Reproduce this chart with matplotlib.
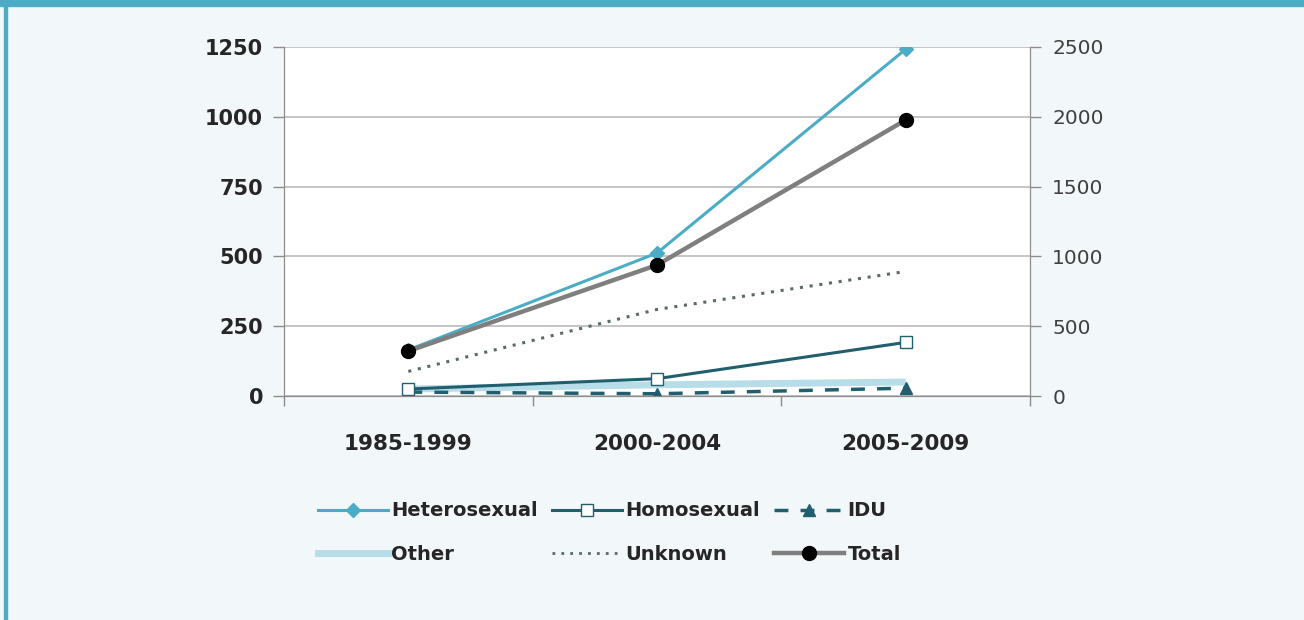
import matplotlib
matplotlib.use("Agg")
import matplotlib.pyplot as plt
from matplotlib.lines import Line2D
from matplotlib.patches import Rectangle
import numpy as np

periods = ["1985-1999", "2000-2004", "2005-2009"]
heterosexual = [165, 512, 1242]
homosexual = [25, 62, 192]
idu = [14, 8, 28]
other = [25, 40, 50]
unknown = [88, 310, 446]
total = [322, 938, 1977]  # secondary axis

BG = "#f2f7fa"
TEAL = "#4bacc6"
DARK_TEAL = "#215f6e"
LIGHT_BLUE = "#b7dde8"
GRID = "#bfbfbf"
TXT = "#262626"

plt.rcParams["font.family"] = ["DejaVu Sans"]

fig = plt.figure(figsize=(13.04, 6.2), dpi=100, facecolor=BG)

# frame: teal band along the top, thin teal rule on the left
fig.patches.append(Rectangle((0, 1 - 6 / 620), 1, 6 / 620, transform=fig.transFigure,
                             color=TEAL, zorder=0))
fig.patches.append(Rectangle((4 / 1304, 0), 3 / 1304, 1, transform=fig.transFigure,
                             color=TEAL, zorder=0))

ax = fig.add_axes([284 / 1304, 1 - 396 / 620, 746 / 1304, 349 / 620])
ax.set_facecolor("white")
ax2 = ax.twinx()

x = np.arange(len(periods))

ax.plot(x, other, color=LIGHT_BLUE, lw=5, solid_capstyle="butt", zorder=2)
ax.plot(x, unknown, color="#5a6b63", lw=2.2, ls=(0, (1, 2.2)), zorder=3)
ax.plot(x, idu, color=DARK_TEAL, lw=2.5, ls=(0, (4, 3.5)), marker="^", ms=8,
        mfc=DARK_TEAL, mec=DARK_TEAL, zorder=4)
ax.plot(x, homosexual, color=DARK_TEAL, lw=2.2, marker="s", ms=9,
        mfc="white", mec=DARK_TEAL, mew=1, zorder=4)
ax.plot(x, heterosexual, color=TEAL, lw=2.2, marker="D", ms=7,
        mfc=TEAL, mec=TEAL, zorder=5)
ax2.plot(x, total, color="#7f7f7f", lw=3.2, marker="o", ms=10,
         mfc="black", mec="black", zorder=5)

ax.set_xlim(-0.5, 2.5)
ax.set_ylim(0, 1250)
ax2.set_ylim(0, 2500)
ax.set_yticks(np.arange(0, 1251, 250))
ax2.set_yticks(np.arange(0, 2501, 500))
ax.yaxis.grid(True, color=GRID, lw=1.3)
ax.set_axisbelow(True)

ax.set_xticks(x)
ax.set_xticklabels(periods, fontsize=15.5, fontweight="bold", color=TXT)
ax.set_xticks([-0.5, 0.5, 1.5, 2.5], minor=True)
ax.tick_params(axis="x", which="major", length=0, pad=27)
ax.tick_params(axis="x", which="minor", length=7, color="#8c8c8c", width=1)
ax.tick_params(axis="y", length=8, color="#8c8c8c", width=1, pad=7,
               labelsize=15, labelcolor=TXT)
for lab in ax.get_yticklabels():
    lab.set_fontweight("bold")
ax2.tick_params(axis="y", length=8, color="#8c8c8c", width=1, pad=8,
                labelsize=14.5, labelcolor="#404040")

for a in (ax, ax2):
    a.spines["top"].set_visible(False)
    a.spines["left"].set_color("#8c8c8c")
    a.spines["right"].set_color("#8c8c8c")
    a.spines["bottom"].set_color("#8c8c8c")

handles = [
    Line2D([], [], color=TEAL, lw=2.2, marker="D", ms=7, mfc=TEAL, mec=TEAL),
    Line2D([], [], color=LIGHT_BLUE, lw=5),
    Line2D([], [], color=DARK_TEAL, lw=2.2, marker="s", ms=9, mfc="white", mec=DARK_TEAL),
    Line2D([], [], color="#5a6b63", lw=2, ls=(0, (1, 2.2))),
    Line2D([], [], color=DARK_TEAL, lw=2.5, ls=(0, (4, 3.5)), marker="^", ms=8,
           mfc=DARK_TEAL, mec=DARK_TEAL),
    Line2D([], [], color="#7f7f7f", lw=3.2, marker="o", ms=10, mfc="black", mec="black"),
]
labels = ["Heterosexual", "Other", "Homosexual", "Unknown", "IDU", "Total"]
leg = fig.legend(handles, labels, ncol=3, loc="upper left",
                 bbox_to_anchor=(300 / 1304, 1 - 484 / 620),
                 frameon=False, fontsize=14, handlelength=3.6, handletextpad=0.2,
                 columnspacing=0.7, labelspacing=1.25)
for t in leg.get_texts():
    t.set_fontweight("bold")
    t.set_color(TXT)

fig.savefig("out.png", dpi=100, facecolor=BG)
